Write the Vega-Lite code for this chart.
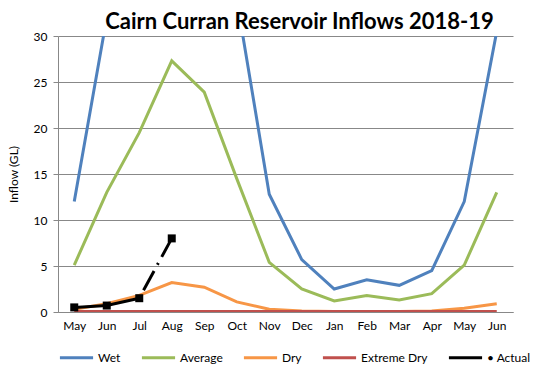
{
  "$schema": "https://vega.github.io/schema/vega-lite/v6.json",
  "autosize": "none",
  "width": 455,
  "height": 276,
  "padding": {"left": 58, "top": 36, "right": 32, "bottom": 67},
  "background": "white",
  "title": {"text": "Cairn Curran Reservoir Inflows 2018-19", "fontSize": 22, "fontWeight": "bold", "font": "Lato", "color": "#000000", "dx": 14, "offset": -4, "anchor": "middle"},
  "datasets": {
    "main": [
      {"i": 0, "series": "Wet", "v": 12}, {"i": 1, "series": "Wet", "v": 32}, {"i": 2, "series": "Wet", "v": 60}, {"i": 3, "series": "Wet", "v": 80}, {"i": 4, "series": "Wet", "v": 70}, {"i": 5, "series": "Wet", "v": 34}, {"i": 6, "series": "Wet", "v": 12.8}, {"i": 7, "series": "Wet", "v": 5.7}, {"i": 8, "series": "Wet", "v": 2.5}, {"i": 9, "series": "Wet", "v": 3.5}, {"i": 10, "series": "Wet", "v": 2.9}, {"i": 11, "series": "Wet", "v": 4.5}, {"i": 12, "series": "Wet", "v": 12}, {"i": 13, "series": "Wet", "v": 30.5},
      {"i": 0, "series": "Average", "v": 5.1}, {"i": 1, "series": "Average", "v": 13}, {"i": 2, "series": "Average", "v": 19.5}, {"i": 3, "series": "Average", "v": 27.3}, {"i": 4, "series": "Average", "v": 23.9}, {"i": 5, "series": "Average", "v": 14.5}, {"i": 6, "series": "Average", "v": 5.4}, {"i": 7, "series": "Average", "v": 2.5}, {"i": 8, "series": "Average", "v": 1.2}, {"i": 9, "series": "Average", "v": 1.8}, {"i": 10, "series": "Average", "v": 1.3}, {"i": 11, "series": "Average", "v": 2.0}, {"i": 12, "series": "Average", "v": 5.1}, {"i": 13, "series": "Average", "v": 13},
      {"i": 0, "series": "Dry", "v": 0.3}, {"i": 1, "series": "Dry", "v": 0.9}, {"i": 2, "series": "Dry", "v": 1.8}, {"i": 3, "series": "Dry", "v": 3.2}, {"i": 4, "series": "Dry", "v": 2.7}, {"i": 5, "series": "Dry", "v": 1.1}, {"i": 6, "series": "Dry", "v": 0.3}, {"i": 7, "series": "Dry", "v": 0.1}, {"i": 8, "series": "Dry", "v": 0.05}, {"i": 9, "series": "Dry", "v": 0.05}, {"i": 10, "series": "Dry", "v": 0.05}, {"i": 11, "series": "Dry", "v": 0.1}, {"i": 12, "series": "Dry", "v": 0.4}, {"i": 13, "series": "Dry", "v": 0.9},
      {"i": 0, "series": "Extreme Dry", "v": 0.05}, {"i": 1, "series": "Extreme Dry", "v": 0.05}, {"i": 2, "series": "Extreme Dry", "v": 0.05}, {"i": 3, "series": "Extreme Dry", "v": 0.05}, {"i": 4, "series": "Extreme Dry", "v": 0.05}, {"i": 5, "series": "Extreme Dry", "v": 0.05}, {"i": 6, "series": "Extreme Dry", "v": 0.05}, {"i": 7, "series": "Extreme Dry", "v": 0.05}, {"i": 8, "series": "Extreme Dry", "v": 0.05}, {"i": 9, "series": "Extreme Dry", "v": 0.05}, {"i": 10, "series": "Extreme Dry", "v": 0.05}, {"i": 11, "series": "Extreme Dry", "v": 0.05}, {"i": 12, "series": "Extreme Dry", "v": 0.05}, {"i": 13, "series": "Extreme Dry", "v": 0.05}
    ],
    "actual": [
      {"i": 0, "series": "Actual", "v": 0.5, "seg": "a"},
      {"i": 1, "series": "Actual", "v": 0.7, "seg": "a"},
      {"i": 2, "series": "Actual", "v": 1.5, "seg": "a"},
      {"i": 2, "series": "Actual", "v": 1.5, "seg": "b"},
      {"i": 3, "series": "Actual", "v": 8.0, "seg": "b"}
    ]
  },
  "encoding": {
    "x": {"field": "i", "type": "ordinal", "scale": {"type": "point", "padding": 0.5}, "sort": "ascending",
      "axis": {"title": null, "labelAngle": 0, "ticks": false, "domainColor": "#888888", "labelPadding": 8, "labelExpr": "['May','Jun','Jul','Aug','Sep','Oct','Nov','Dec','Jan','Feb','Mar','Apr','May','Jun'][datum.value]"}},
    "y": {"field": "v", "type": "quantitative", "scale": {"domain": [0, 30], "nice": false},
      "axis": {"title": "Inflow (GL)", "values": [0, 5, 10, 15, 20, 25, 30], "gridColor": "#888888", "domainColor": "#888888", "tickColor": "#888888", "tickSize": 5, "labelPadding": 6, "titlePadding": 13}},
    "color": {"field": "series", "type": "nominal",
      "scale": {"domain": ["Wet", "Average", "Dry", "Extreme Dry", "Actual"], "range": ["#4F81BD", "#9BBB59", "#F79646", "#C0504D", "#000000"]},
      "legend": {"title": null, "orient": "bottom", "direction": "horizontal", "symbolType": "stroke", "symbolSize": 1100, "symbolStrokeWidth": 3, "columnPadding": 14, "labelOffset": 3, "labelFontSize": 12, "offset": 8, "labelExpr": "datum.label == 'Actual' ? '• Actual' : datum.label"}}
  },
  "layer": [
    {"data": {"name": "main"}, "mark": {"type": "line", "strokeWidth": 3, "clip": true}},
    {"data": {"name": "actual"}, "transform": [{"filter": "datum.seg == 'a'"}], "mark": {"type": "line", "strokeWidth": 3, "clip": true}},
    {"data": {"name": "actual"}, "transform": [{"filter": "datum.seg == 'b'"}], "mark": {"type": "line", "strokeWidth": 3, "strokeDash": [2, 7, 22, 7], "clip": true}},
    {"data": {"name": "actual"}, "transform": [{"filter": "datum.seg == 'a' || datum.i == 3"}], "mark": {"type": "square", "size": 64, "opacity": 1, "filled": true}}
  ],
  "config": {
    "view": {"stroke": null},
    "font": "Lato",
    "axis": {"labelFont": "Lato", "titleFont": "Lato", "labelFontSize": 12, "titleFontSize": 12, "titleFontWeight": "normal", "labelColor": "#000000", "titleColor": "#000000", "grid": true},
    "axisX": {"grid": false},
    "legend": {"labelFont": "Lato", "labelColor": "#000000"}
  }
}
